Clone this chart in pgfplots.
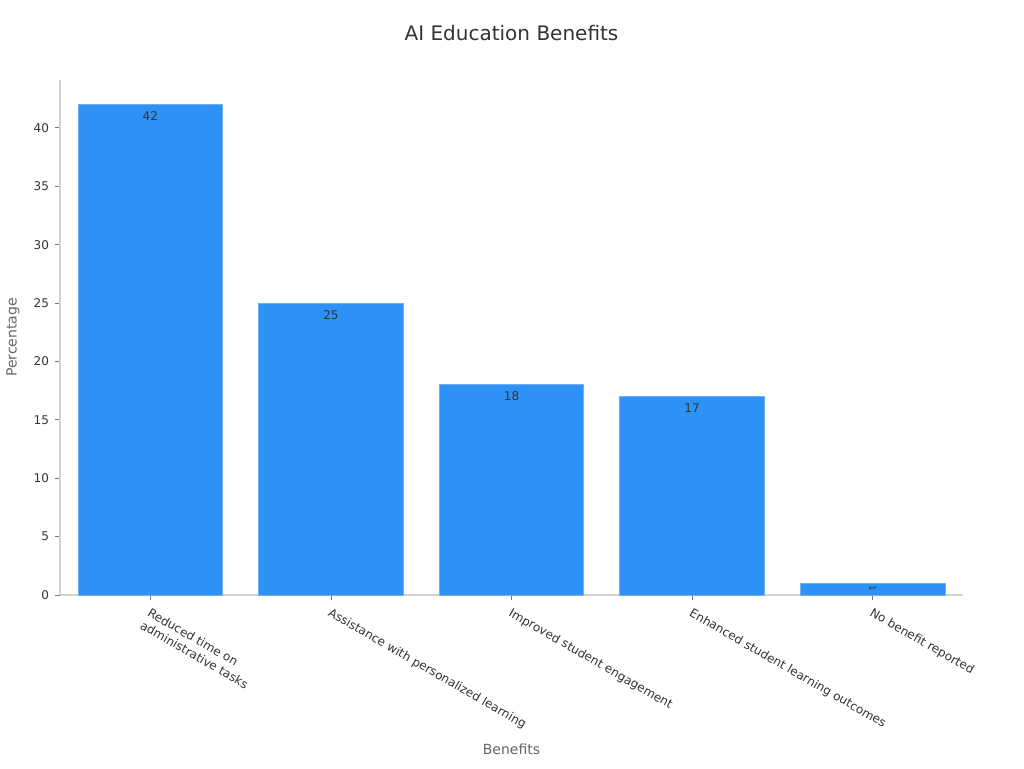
\documentclass[border=0pt]{standalone}
\usepackage{pgfplots}
\pgfplotsset{compat=1.18}
\usepackage{fontspec}
\setmainfont{DejaVu Sans}
\definecolor{barblue}{RGB}{46,145,245}
\definecolor{baredge}{RGB}{110,175,245}
\definecolor{txt}{RGB}{51,51,51}
\definecolor{lbl}{RGB}{102,102,102}
\definecolor{axl}{RGB}{210,210,210}
\definecolor{tck}{RGB}{120,120,120}
\begin{document}
\begin{tikzpicture}[x=0.75pt,y=0.75pt]
\useasboundingbox (-60,-173) rectangle (964,595);
\begin{axis}[
  at={(0,0)}, anchor=south west,
  scale only axis,
  width=677.25pt, height=386.25pt,
  xmin=-0.5, xmax=4.5, ymin=0, ymax=44.1,
  axis x line*=bottom, axis y line*=left,
  axis line style={draw=axl, line width=0.8pt, -},
  x axis line style={draw=axl, -},
  y axis line style={draw=axl, -},
  xtick={0,1,2,3,4},
  xticklabels={{Reduced time on\\administrative tasks},{Assistance with personalized learning},{Improved student engagement},{Enhanced student learning outcomes},{No benefit reported}},
  ytick={0,5,10,15,20,25,30,35,40},
  tick align=outside,
  major tick length=3.75pt,
  tick style={tck, line width=0.6pt},
  ticklabel style={font=\fontsize{9}{11}\selectfont, text=txt},
  xticklabel style={rotate=-30, anchor=north west, align=left, xshift=0pt, yshift=-1pt},
  yticklabel style={xshift=-1pt},
  /pgf/number format/assume math mode=true,
  title={AI Education Benefits},
  title style={font=\fontsize{15}{18}\selectfont, text=txt, at={(axis description cs:0.5,1)}, anchor=center, yshift=29pt},
  xlabel={Benefits},
  xlabel style={font=\fontsize{10.5}{12}\selectfont, text=lbl, at={(axis description cs:0.5,0)}, anchor=center, yshift=-116pt},
  ylabel={Percentage},
  ylabel style={font=\fontsize{10.5}{12}\selectfont, text=lbl, at={(axis description cs:-0.052,0.5)}, anchor=center},
  ybar, bar width=0.8, bar shift=0pt,
  nodes near coords,
  every node near coord/.append style={font=\fontsize{9}{11}\selectfont, text=txt, anchor=north, inner sep=2pt, yshift=-3pt},
]
\addplot[fill=barblue, draw=baredge, line width=0.6pt] coordinates {(0,42) (1,25) (2,18) (3,17)};
\addplot[fill=barblue, draw=baredge, line width=0.6pt, nodes near coords style={rotate=-90, anchor=center, xshift=1pt, yshift=0pt, font=\fontsize{6.5}{7}\selectfont}] coordinates {(4,1)};
\end{axis}
\end{tikzpicture}
\end{document}
